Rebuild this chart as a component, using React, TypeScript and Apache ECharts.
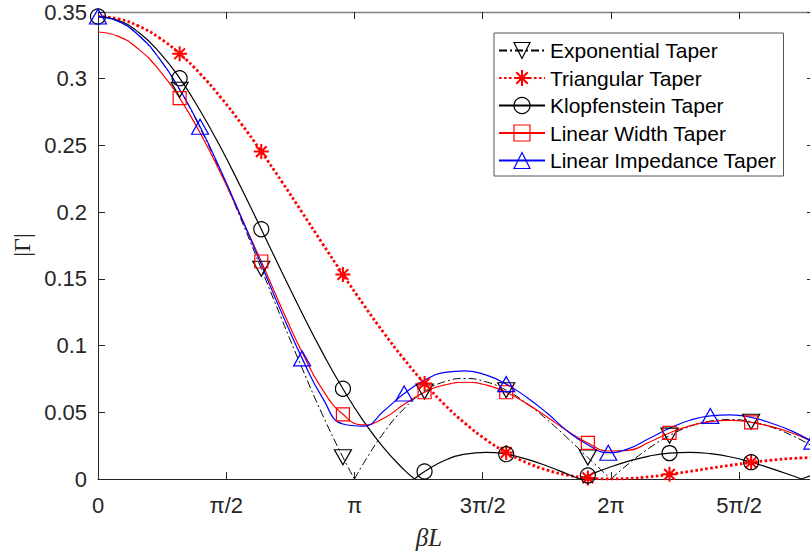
import React, { useEffect, useRef } from "react";
import * as echarts from "echarts";

// Sample positions (beta*L, radians)
const betaL = [0, 0.25, 0.5, 0.75, 1, 1.25, 1.5, 1.75, 2, 2.25, 2.5, 2.75, 3, 3.25, 3.5, 3.75, 4, 4.25, 4.5, 4.75, 5, 5.25, 5.5, 5.75, 6, 6.25, 6.5, 6.75, 7, 7.25, 7.5, 7.75, 8, 8.25, 8.5, 8.75];

// |Gamma| for each taper
const expoTaper = [0.3466, 0.3430, 0.3323, 0.3150, 0.2917, 0.2631, 0.2305, 0.1949, 0.1576, 0.1199, 0.0830, 0.0481, 0.0163, 0.0115, 0.0347, 0.0528, 0.0656, 0.0730, 0.0753, 0.0729, 0.0665, 0.0567, 0.0445, 0.0307, 0.0161, 0.0018, 0.0115, 0.0231, 0.0325, 0.0394, 0.0434, 0.0445, 0.0429, 0.0388, 0.0326, 0.0247];
const triTaper = [0.3466, 0.3448, 0.3394, 0.3307, 0.3187, 0.3038, 0.2863, 0.2666, 0.2454, 0.2230, 0.1998, 0.1764, 0.1533, 0.1309, 0.1096, 0.0897, 0.0716, 0.0555, 0.0415, 0.0296, 0.0199, 0.0123, 0.0067, 0.0029, 0.0008, 0.0000, 0.0004, 0.0016, 0.0035, 0.0057, 0.0081, 0.0103, 0.0124, 0.0141, 0.0154, 0.0161];
const klopTaper = [0.3466, 0.3436, 0.3346, 0.3200, 0.3004, 0.2762, 0.2488, 0.2186, 0.1872, 0.1554, 0.1243, 0.0947, 0.0676, 0.0436, 0.0233, 0.0068, 0.0056, 0.0140, 0.0187, 0.0200, 0.0186, 0.0149, 0.0097, 0.0037, 0.0026, 0.0084, 0.0134, 0.0172, 0.0194, 0.0200, 0.0190, 0.0165, 0.0126, 0.0078, 0.0026, 0.0029];
const widthTaper = [0.3350, 0.3317, 0.3220, 0.3065, 0.2855, 0.2595, 0.2295, 0.1965, 0.1630, 0.1280, 0.0950, 0.0670, 0.0485, 0.0405, 0.0455, 0.0560, 0.0650, 0.0705, 0.0725, 0.0705, 0.0650, 0.0565, 0.0465, 0.0360, 0.0270, 0.0210, 0.0215, 0.0275, 0.0345, 0.0398, 0.0430, 0.0440, 0.0425, 0.0392, 0.0345, 0.0280];
const impTaper = [0.3466, 0.3430, 0.3324, 0.3153, 0.2921, 0.2640, 0.2318, 0.1969, 0.1607, 0.1245, 0.0904, 0.0608, 0.0412, 0.0396, 0.0510, 0.0641, 0.0741, 0.0799, 0.0811, 0.0780, 0.0711, 0.0613, 0.0494, 0.0359, 0.0256, 0.0197, 0.0228, 0.0304, 0.0380, 0.0440, 0.0473, 0.0481, 0.0462, 0.0418, 0.0359, 0.0280];

// Zeros (sharp nulls) of the curves
const expoNulls = [3.1416, 6.2832];
const klopNulls = [3.8774, 5.8969, 8.6170];

// Where markers are drawn
const expoMarks = [1, 2, 3, 4, 5, 6, 7, 8];
const triMarks = [1, 2, 3, 4, 5, 6, 7, 8];
const klopMarks = [0, 1, 2, 3, 4, 5, 6, 7, 8];
const widthMarks = [1, 2, 3, 4, 5, 6, 7, 8];
const impMarks = [0, 1.25, 2.5, 3.75, 5, 6.25, 7.5, 8.75];

const seriesNames = ["Exponential Taper", "Triangular Taper", "Klopfenstein Taper", "Linear Width Taper", "Linear Impedance Taper"];
const xTickLabels = ["0", "π/2", "π", "3π/2", "2π", "5π/2"];

const FONT = "'Liberation Sans', Arial, Helvetica, sans-serif";
const AXIS = "#262626";
const BOX = "#808080";
const ASTERISK = "path://M7 0L7 14M0 7L14 7M2 2L12 12M2 12L12 2";

function buildData(values: number[], marks: number[], nulls: number[]) {
  const pts: { x: number; y: number; z: boolean }[] = betaL.map((x, i) => ({ x, y: values[i], z: false }));
  nulls.forEach((x) => pts.push({ x, y: 0, z: true }));
  pts.sort((a, b) => a.x - b.x);
  const out: any[] = [];
  pts.forEach((p) => {
    if (p.z) {
      out.push({ value: [p.x, 0], symbol: "none" });
      out.push({ value: [p.x, "-"], symbol: "none" });
      out.push({ value: [p.x, 0], symbol: "none" });
    } else {
      const mk = marks.some((m) => Math.abs(m - p.x) < 1e-6);
      out.push(mk ? { value: [p.x, p.y] } : { value: [p.x, p.y], symbol: "none" });
    }
  });
  return out;
}

export default function App() {
  const ref = useRef<HTMLDivElement>(null);
  useEffect(() => {
    if (!ref.current) return;
    const chart = echarts.init(ref.current, undefined, { renderer: "svg" });
    const open = (c: string) => ({ color: "rgba(0,0,0,0)", borderColor: c, borderWidth: 1.2 });
    const mkSeries = (name: string, data: any[], color: string, lineType: any, width: number, symbol: string, size: any, itemStyle: any, rotate = 0) => ({
      name,
      type: "line",
      data,
      smooth: 0.5,
      showSymbol: true,
      showAllSymbol: true,
      symbol,
      symbolSize: size,
      symbolRotate: rotate,
      symbolKeepAspect: false,
      clip: true,
      connectNulls: false,
      lineStyle: { color, width, type: lineType, cap: "butt" },
      itemStyle,
      emphasis: { disabled: true },
      silent: true,
    });
    const option: any = {
      animation: false,
      backgroundColor: "#ffffff",
      grid: { left: 98, top: 12, width: 716, height: 467, containLabel: false },
      xAxis: [
        {
          type: "value",
          min: 0,
          max: 8.77,
          interval: Math.PI / 2,
          axisLine: { show: true, lineStyle: { color: AXIS, width: 1 } },
          axisTick: { show: true, inside: true, length: 7, lineStyle: { color: AXIS } },
          splitLine: { show: false },
          axisLabel: {
            color: AXIS,
            fontSize: 22,
            fontFamily: FONT,
            margin: 15,
            formatter: (v: number) => {
              const k = v / (Math.PI / 2);
              const r = Math.round(k);
              return Math.abs(k - r) < 1e-6 && r < xTickLabels.length ? xTickLabels[r] : "";
            },
          },
        },
        {
          type: "value",
          position: "top",
          min: 0,
          max: 8.77,
          interval: Math.PI / 2,
          axisLine: { show: true, onZero: false, lineStyle: { color: BOX, width: 1.4 } },
          axisTick: { show: true, inside: true, length: 7, lineStyle: { color: AXIS } },
          splitLine: { show: false },
          axisLabel: { show: false },
        },
      ],
      yAxis: [
        {
          type: "value",
          min: 0,
          max: 0.35,
          interval: 0.05,
          axisLine: { show: true, lineStyle: { color: AXIS, width: 1 } },
          axisTick: { show: true, inside: true, length: 7, lineStyle: { color: AXIS } },
          splitLine: { show: false },
          axisLabel: {
            color: AXIS,
            fontSize: 22,
            fontFamily: FONT,
            margin: 11,
            formatter: (v: number) => String(Number(v.toFixed(2))),
          },
        },
        {
          type: "value",
          position: "right",
          min: 0,
          max: 0.35,
          interval: 0.05,
          axisLine: { show: true, onZero: false, lineStyle: { color: BOX, width: 1.4 } },
          axisTick: { show: true, inside: true, length: 7, lineStyle: { color: AXIS } },
          splitLine: { show: false },
          axisLabel: { show: false },
        },
      ],
      legend: {
        orient: "vertical",
        left: 494,
        top: 33,
        padding: [7, 7, 5, 4],
        itemGap: 6.5,
        itemWidth: 46,
        itemHeight: 20,
        selectedMode: false,
        backgroundColor: "#ffffff",
        borderColor: "#555555",
        borderWidth: 1,
        borderRadius: 0,
        textStyle: { fontSize: 21, fontFamily: FONT, color: "#000000" },
        data: [
          { name: seriesNames[0], itemStyle: open("#000000") },
          { name: seriesNames[1], itemStyle: { color: "#ff0000", borderColor: "#ff0000", borderWidth: 2 } },
          { name: seriesNames[2], itemStyle: open("#000000") },
          { name: seriesNames[3], itemStyle: open("#ff0000") },
          { name: seriesNames[4], itemStyle: open("#0000ff") },
        ],
      },
      graphic: [
        {
          type: "text",
          x: 429,
          y: 537,
          style: { text: "βL", font: "italic 25px 'Liberation Serif', 'DejaVu Serif', serif", fill: AXIS, align: "center", verticalAlign: "middle" },
        },
        {
          type: "text",
          x: 22,
          y: 245,
          rotation: Math.PI / 2,
          style: { text: "|Γ|", font: "24px 'Liberation Serif', 'DejaVu Serif', serif", fill: AXIS, align: "center", verticalAlign: "middle" },
        },
      ],
      series: [
        mkSeries(seriesNames[0], buildData(expoTaper, expoMarks, expoNulls), "#000000", [8, 3, 2, 3], 1, "triangle", [17, 15], open("#000000"), 180),
        mkSeries(seriesNames[1], buildData(triTaper, triMarks, []), "#ff0000", [2.6, 2.4], 2.8, ASTERISK, 15, { color: "#ff0000", borderColor: "#ff0000", borderWidth: 2 }),
        mkSeries(seriesNames[2], buildData(klopTaper, klopMarks, klopNulls), "#000000", "solid", 1.2, "circle", 15, open("#000000")),
        mkSeries(seriesNames[3], buildData(widthTaper, widthMarks, []), "#ff0000", "solid", 1.2, "rect", 13, open("#ff0000")),
        mkSeries(seriesNames[4], buildData(impTaper, impMarks, []), "#0000ff", "solid", 1.2, "triangle", [17, 15], open("#0000ff")),
      ],
    };
    chart.setOption(option);
    return () => chart.dispose();
  }, []);
  return (
    <div style={{ position: "fixed", left: 0, top: 0, width: 810, height: 552, overflow: "hidden", background: "#fff" }}>
      <div ref={ref} style={{ width: 830, height: 552 }} />
    </div>
  );
}
